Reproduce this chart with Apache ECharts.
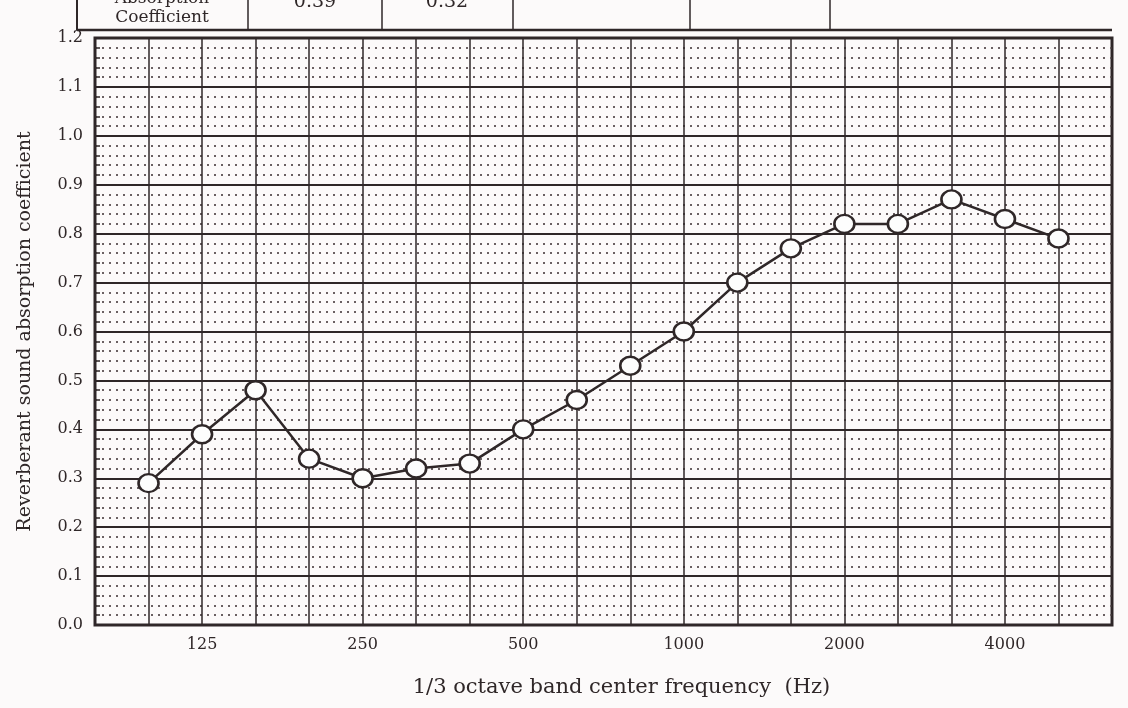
<!DOCTYPE html>
<html>
<head>
<meta charset="utf-8">
<script src="https://cdn.jsdelivr.net/npm/echarts@6/dist/echarts.min.js"></script>
<style>
  html, body { margin: 0; padding: 0; background: #fcfafa; }
  #absorption-chart { width: 1128px; height: 708px; }
</style>
</head>
<body>
<div id="absorption-chart"></div>
<script>
// 1/3 octave band centre frequencies (Hz)
const bandLabels = ['100', '125', '160', '200', '250', '315', '400', '500', '630',
  '800', '1000', '1250', '1600', '2000', '2500', '3150', '4000', '5000'];
// reverberant sound absorption coefficient
const absorption = [0.29, 0.39, 0.48, 0.34, 0.30, 0.32, 0.33, 0.40, 0.46,
  0.53, 0.60, 0.70, 0.77, 0.82, 0.82, 0.87, 0.83, 0.79];
// only the octave centres carry a label
const shownBands = ['125', '250', '500', '1000', '2000', '4000'];
// octave values in the table strip at the top (cut off in the scan)
const tableValues = ['0.39', '0.32'];

const ink = '#2f2728';
const serif = '"DejaVu Serif", "Liberation Serif", serif';

const chart = echarts.init(document.getElementById('absorption-chart'));

function tableLine(x1, y1, x2, y2, w) {
  return { type: 'line', shape: { x1, y1, x2, y2 }, style: { stroke: ink, lineWidth: w } };
}
function tableText(x, y, text, size) {
  return {
    type: 'text', x, y,
    style: { text, font: size + 'px ' + serif, fill: ink, textAlign: 'center', textVerticalAlign: 'middle' },
  };
}

chart.setOption({
  backgroundColor: '#fcfafa',
  animation: false,
  grid: {
    left: 95, right: 16, top: 38, bottom: 83,
    show: true, borderColor: ink, borderWidth: 3,
  },
  xAxis: {
    type: 'value',
    min: -1,
    max: 18,
    interval: 1,
    name: '1/3 octave band center frequency  (Hz)',
    nameLocation: 'middle',
    nameGap: 52,
    nameTextStyle: { fontFamily: serif, fontSize: 21, color: ink, padding: [0, 0, 0, 36] },
    axisLine: { show: false, onZero: false },
    axisTick: { show: false },
    axisLabel: {
      margin: 12,
      fontFamily: serif,
      fontSize: 16,
      color: ink,
      formatter: (v) => {
        const lab = bandLabels[v];
        return shownBands.includes(lab) ? lab : '';
      },
    },
    splitLine: { show: true, lineStyle: { color: ink, width: 1.5 } },
  },
  yAxis: {
    type: 'value',
    min: 0,
    max: 1.2,
    interval: 0.1,
    name: 'Reverberant sound absorption coefficient',
    nameLocation: 'middle',
    nameGap: 60,
    nameTextStyle: { fontFamily: serif, fontSize: 19, color: ink },
    axisLine: { show: false, onZero: false },
    axisTick: { show: true, inside: true, length: 8, lineStyle: { color: ink, width: 1.5 } },
    minorTick: { show: true, splitNumber: 5, length: 5, lineStyle: { color: ink, width: 1.5 } },
    axisLabel: {
      margin: 12,
      fontFamily: serif,
      fontSize: 16,
      color: ink,
      formatter: (v) => v.toFixed(1),
    },
    splitLine: { show: true, lineStyle: { color: ink, width: 2 } },
    minorSplitLine: { show: true, lineStyle: { color: '#6a6062', width: 2, type: [2, 5] } },
  },
  graphic: [
    {
      type: 'group',
      silent: true,
      children: [
        tableLine(77, 30, 1112, 30, 2.5),
        tableLine(77, 0, 77, 30, 2),
        tableLine(248, 0, 248, 30, 1.5),
        tableLine(382, 0, 382, 30, 1.5),
        tableLine(513, 0, 513, 30, 1.5),
        tableLine(690, 0, 690, 30, 1.5),
        tableLine(830, 0, 830, 30, 1.5),
        tableText(162, -1, 'Absorption', 17),
        tableText(162, 18, 'Coefficient', 17),
        tableText(315, 2, tableValues[0], 19),
        tableText(447, 2, tableValues[1], 19),
      ],
    },
  ],
  series: [
    {
      type: 'line',
      data: absorption.map((v, i) => [i, v]),
      symbol: 'circle',
      symbolSize: [20, 18],
      itemStyle: { color: '#fdfdfd', borderColor: ink, borderWidth: 2.5 },
      lineStyle: { color: ink, width: 2.5 },
      z: 5,
    },
  ],
});
</script>
</body>
</html>
